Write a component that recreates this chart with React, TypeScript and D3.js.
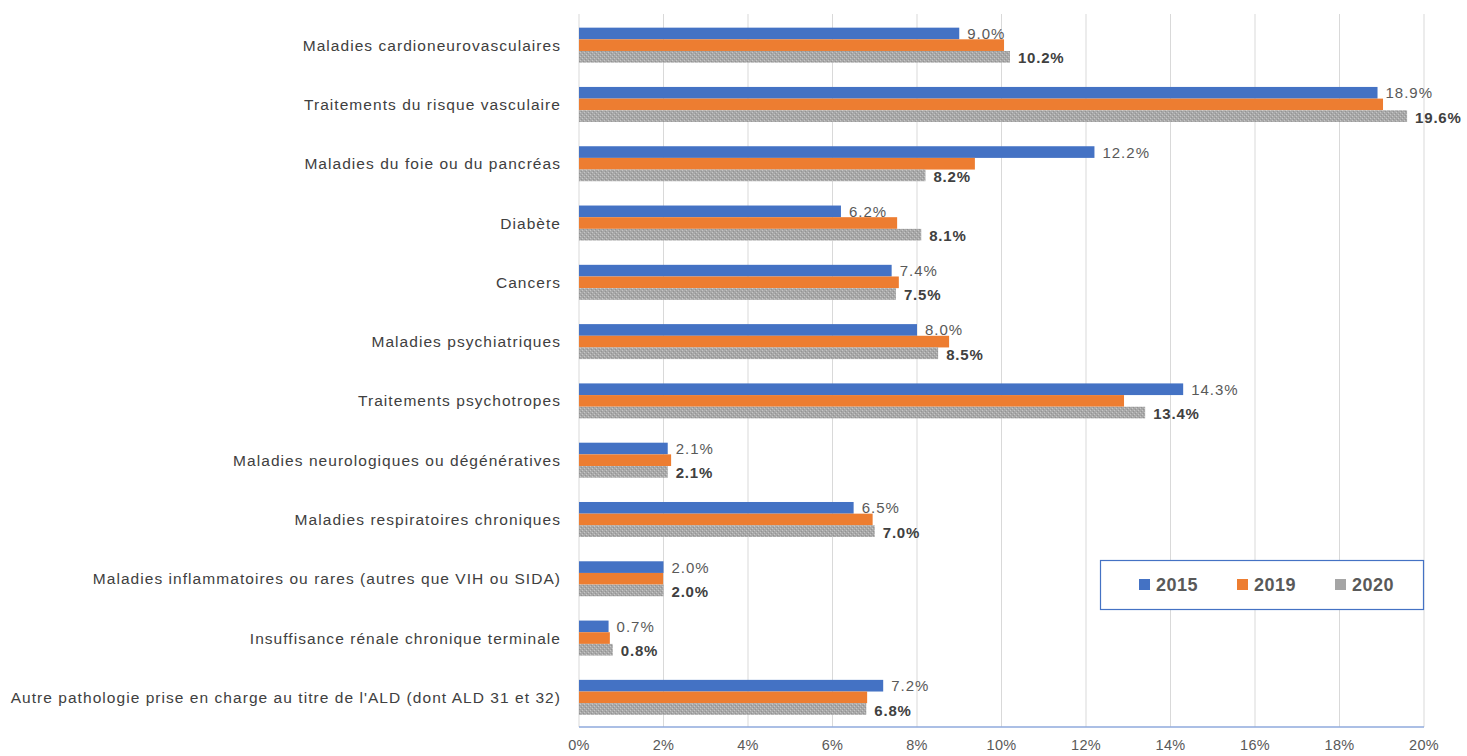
import React from "react";
import * as d3 from "d3";

const categories = [
  "Maladies cardioneurovasculaires",
  "Traitements du risque vasculaire",
  "Maladies du foie ou du pancréas",
  "Diabète",
  "Cancers",
  "Maladies psychiatriques",
  "Traitements psychotropes",
  "Maladies neurologiques ou dégénératives",
  "Maladies respiratoires chroniques",
  "Maladies inflammatoires ou rares (autres que VIH ou SIDA)",
  "Insuffisance rénale chronique terminale",
  "Autre pathologie prise en charge au titre de l'ALD (dont ALD 31 et 32)",
];
const values2015 = [9.0, 18.9, 12.2, 6.2, 7.4, 8.0, 14.3, 2.1, 6.5, 2.0, 0.7, 7.2];
const values2019 = [10.06, 19.03, 9.37, 7.53, 7.57, 8.76, 12.9, 2.18, 6.95, 1.99, 0.73, 6.82];
const values2020 = [10.2, 19.6, 8.2, 8.1, 7.5, 8.5, 13.4, 2.1, 7.0, 2.0, 0.8, 6.8];
const seriesNames = ["2015", "2019", "2020"];
const xTicks = [0, 2, 4, 6, 8, 10, 12, 14, 16, 18, 20];

const W = 1467;
const H = 756;
const margin = { left: 579, right: 43, top: 15.5, bottom: 29 };

export default function App() {
  const x = d3.scaleLinear().domain([0, 20]).range([margin.left, W - margin.right]);
  const y = d3
    .scaleBand<string>()
    .domain(categories)
    .range([margin.top, H - margin.bottom])
    .paddingInner(0.41)
    .paddingOuter(0.205);
  const sub = d3.scaleBand<string>().domain(seriesNames).range([0, y.bandwidth()]);
  const colors = ["#4472c4", "#ed7d31", "url(#grayTex)"];
  const series = [values2015, values2019, values2020];
  const font = "Liberation Sans, Arial, sans-serif";

  return (
    <svg width={W} height={H} style={{ position: "absolute", left: 0, top: 0, background: "#fff" }}>
      <defs>
        <pattern id="grayTex" width="4" height="4" patternUnits="userSpaceOnUse">
          <rect width="4" height="4" fill="#a8a8a8" />
          <rect x="0" y="0" width="1" height="1" fill="#c6c6c6" />
          <rect x="2" y="2" width="1" height="1" fill="#c6c6c6" />
          <rect x="1" y="3" width="1" height="1" fill="#939393" />
          <rect x="3" y="1" width="1" height="1" fill="#939393" />
        </pattern>
      </defs>
      <rect width={W} height={H} fill="#fff" />
      {xTicks.map((t) => (
        <line key={t} x1={x(t)} x2={x(t)} y1={14} y2={H - margin.bottom} stroke="#d9d9d9" strokeWidth={1} />
      ))}
      {categories.map((c, i) => (
        <g key={c}>
          <text
            x={561}
            y={(y(c) as number) + y.bandwidth() / 2}
            textAnchor="end"
            dominantBaseline="central"
            fontFamily={font}
            fontSize={15.5}
            letterSpacing={1.05}
            fill="#404040"
          >
            {c}
          </text>
          {series.map((vals, s) => (
            <rect
              key={s}
              x={x(0)}
              y={(y(c) as number) + (sub(seriesNames[s]) as number)}
              width={x(vals[i]) - x(0)}
              height={sub.bandwidth()}
              fill={colors[s]}
            />
          ))}
          <text
            x={x(values2015[i]) + 8}
            y={(y(c) as number) + (sub("2015") as number) + sub.bandwidth() / 2}
            dominantBaseline="central"
            fontFamily={font}
            fontSize={15}
            letterSpacing={1}
            fill="#595959"
          >
            {values2015[i].toFixed(1) + "%"}
          </text>
          <text
            x={x(values2020[i]) + 8}
            y={(y(c) as number) + (sub("2020") as number) + sub.bandwidth() / 2 + 1}
            dominantBaseline="central"
            fontFamily={font}
            fontSize={15}
            letterSpacing={0.8}
            fontWeight="bold"
            fill="#404040"
          >
            {values2020[i].toFixed(1) + "%"}
          </text>
        </g>
      ))}
      <line x1={x(0)} x2={x(20)} y1={H - margin.bottom} y2={H - margin.bottom} stroke="#8faadc" strokeWidth={1.5} />
      {xTicks.map((t) => (
        <text
          key={t}
          x={x(t)}
          y={745}
          textAnchor="middle"
          dominantBaseline="central"
          fontFamily={font}
          fontSize={14.5}
          letterSpacing={0.3}
          fill="#595959"
        >
          {t + "%"}
        </text>
      ))}
      <rect x={1100.5} y={560.5} width={323} height={49} fill="#fff" stroke="#4472c4" strokeWidth={1.2} />
      {seriesNames.map((n, s) => {
        const lx = 1139 + s * 98;
        return (
          <g key={n}>
            <rect x={lx} y={579} width={11} height={11} fill={["#4472c4", "#ed7d31", "#a5a5a5"][s]} />
            <text
              x={lx + 17}
              y={585}
              dominantBaseline="central"
              fontFamily={font}
              fontSize={18}
              letterSpacing={0.5}
              fontWeight="bold"
              fill="#595959"
            >
              {n}
            </text>
          </g>
        );
      })}
    </svg>
  );
}
